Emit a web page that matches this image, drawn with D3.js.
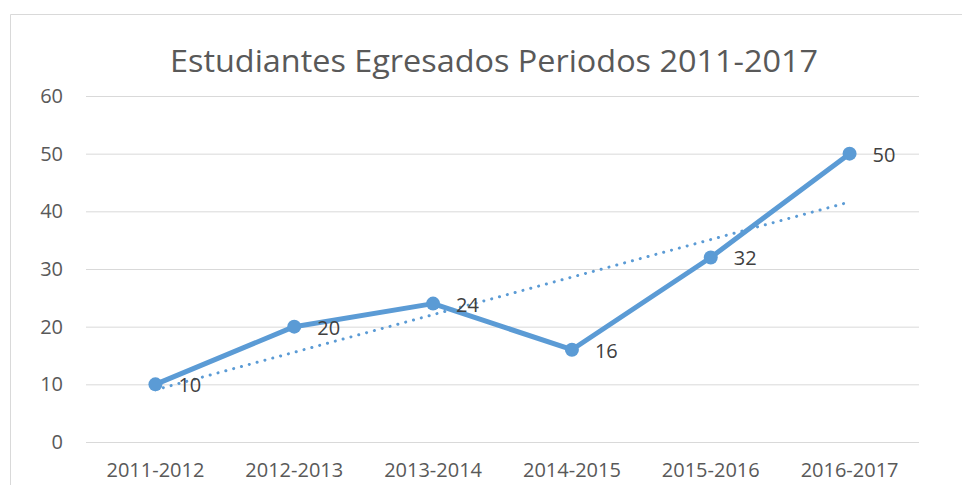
<!DOCTYPE html>
<html lang="es">
<head>
<meta charset="UTF-8">
<title>Estudiantes Egresados</title>
<script src="https://d3js.org/d3.v7.min.js"></script>
<style>
  body { margin: 0; background: #fff; }
  svg { display: block; font-family: "Open Sans", "Liberation Sans", sans-serif; }
</style>
</head>
<body>
<svg id="chart" width="962" height="485"></svg>
<script>
// datos
const periods = ["2011-2012", "2012-2013", "2013-2014", "2014-2015", "2015-2016", "2016-2017"];
const graduates = [10, 20, 24, 16, 32, 50];
const yTicks = [0, 10, 20, 30, 40, 50, 60];
const chartTitle = "Estudiantes Egresados Periodos 2011-2017";

const svg = d3.select("#chart");
const plot = {left: 86, right: 919, top: 96, bottom: 442};

// marco del grafico
svg.append("path")
  .attr("d", "M10.5,485 V14.5 H962")
  .attr("fill", "none")
  .attr("stroke", "#d9d9d9")
  .attr("stroke-width", 1);

const x = d3.scaleBand().domain(periods).range([plot.left, plot.right]);
const y = d3.scaleLinear().domain([0, 60]).range([plot.bottom, plot.top]);
const cx = d => x(d) + x.bandwidth() / 2;

// lineas de cuadricula
svg.append("g")
  .attr("transform", `translate(${plot.left},0)`)
  .call(d3.axisLeft(y).tickValues(yTicks).tickSize(-(plot.right - plot.left)).tickPadding(23))
  .call(g => g.select(".domain").remove())
  .call(g => g.selectAll("line").attr("stroke", "#d9d9d9").attr("stroke-width", 1))
  .call(g => g.selectAll("text").attr("fill", "#595959").attr("font-size", 20)
    .attr("font-family", "Open Sans, sans-serif"));

// eje x
svg.append("g")
  .attr("transform", `translate(0,${plot.bottom})`)
  .call(d3.axisBottom(x).tickSize(0).tickPadding(21))
  .call(g => g.select(".domain").remove())
  .call(g => g.selectAll("text").attr("fill", "#595959").attr("font-size", 20)
    .attr("font-family", "Open Sans, sans-serif"));

// titulo
svg.append("text")
  .attr("x", 494)
  .attr("y", 72)
  .attr("text-anchor", "middle")
  .attr("fill", "#595959")
  .attr("font-size", 31)
  .attr("textLength", 648)
  .attr("lengthAdjust", "spacingAndGlyphs")
  .text(chartTitle);

// linea de tendencia (regresion lineal)
const n = graduates.length;
const xs = graduates.map((d, i) => i + 1);
const mx = d3.mean(xs), my = d3.mean(graduates);
const slope = d3.sum(xs, (v, i) => (v - mx) * (graduates[i] - my)) / d3.sum(xs, v => (v - mx) ** 2);
const icpt = my - slope * mx;
svg.append("line")
  .attr("x1", cx(periods[0])).attr("y1", y(icpt + slope * 1))
  .attr("x2", cx(periods[n - 1])).attr("y2", y(icpt + slope * n))
  .attr("stroke", "#5b9bd5")
  .attr("stroke-width", 3)
  .attr("stroke-linecap", "round")
  .attr("stroke-dasharray", "0.1,8");

// serie
const line = d3.line().x((d, i) => cx(periods[i])).y(d => y(d));
svg.append("path")
  .datum(graduates)
  .attr("fill", "none")
  .attr("stroke", "#5b9bd5")
  .attr("stroke-width", 5)
  .attr("stroke-linejoin", "round")
  .attr("d", line);

svg.selectAll("circle.pt")
  .data(graduates)
  .enter().append("circle")
  .attr("class", "pt")
  .attr("cx", (d, i) => cx(periods[i]))
  .attr("cy", d => y(d))
  .attr("r", 7)
  .attr("fill", "#5b9bd5");

// etiquetas de datos
svg.selectAll("text.lbl")
  .data(graduates)
  .enter().append("text")
  .attr("class", "lbl")
  .attr("x", (d, i) => cx(periods[i]) + 23)
  .attr("y", d => y(d) + 8)
  .attr("fill", "#404040")
  .attr("font-size", 20)
  .text(d => d);
</script>
</body>
</html>
